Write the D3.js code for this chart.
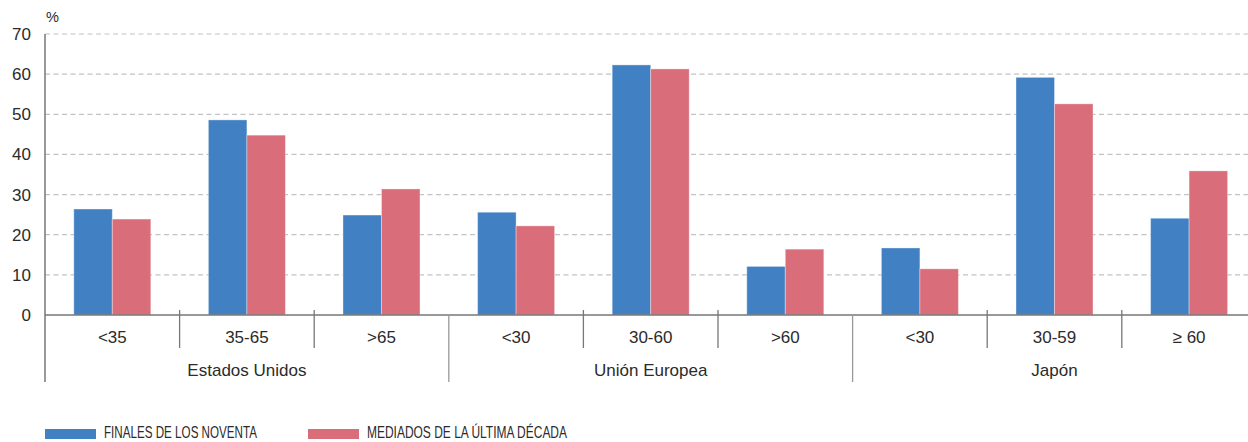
<!DOCTYPE html>
<html>
<head>
<meta charset="utf-8">
<script src="https://cdn.jsdelivr.net/npm/d3@7"></script>
<style>
  html, body { margin: 0; padding: 0; background: #fff; }
  svg { display: block; }
  text { font-family: "Liberation Sans", Arial, Helvetica, sans-serif; fill: #2b2b2b; }
</style>
</head>
<body>
<svg id="chart" width="1248" height="442"></svg>
<script>
// Age brackets, grouped by region
const groups = ["Estados Unidos", "Unión Europea", "Japón"];
const ageLabels = ["<35", "35-65", ">65", "<30", "30-60", ">60", "<30", "30-59", "≥ 60"];
const groupOf = [0, 0, 0, 1, 1, 1, 2, 2, 2];

// Share (%) per bracket
const seriesNames = ["FINALES DE LOS NOVENTA", "MEDIADOS DE LA ÚLTIMA DÉCADA"];
const finalesNoventa = [26.4, 48.6, 24.9, 25.6, 62.3, 12.1, 16.7, 59.2, 24.1];
const mediadosDecada = [23.9, 44.8, 31.4, 22.2, 61.3, 16.4, 11.5, 52.6, 35.9];
const yTicks = [0, 10, 20, 30, 40, 50, 60, 70];

const colors = ["#4180c3", "#d96d7a"];

const svg = d3.select("#chart");
const W = 1248;
const left = 45, y0 = 315, yTop = 34;
const catWidth = 134.6;
const labelSize = 17;

const keys = ageLabels.map((d, i) => i);
const x0 = d3.scaleBand().domain(keys).range([left, left + catWidth * keys.length]).padding(0);
const bw = x0.bandwidth();
const barW = 38.5;
const x1 = d3.scaleBand().domain([0, 1]).range([bw / 2 - barW, bw / 2 + barW]).padding(0);
const y = d3.scaleLinear().domain([0, 70]).range([y0, yTop]);

// Dashed grid lines
svg.append("g")
  .selectAll("line")
  .data(yTicks.filter(t => t > 0))
  .join("line")
  .attr("x1", left).attr("x2", W)
  .attr("y1", d => y(d)).attr("y2", d => y(d))
  .attr("stroke", "#c2c2c2")
  .attr("stroke-width", 1.2)
  .attr("stroke-dasharray", "5,3.5");

// Y axis tick labels
const yAxis = d3.axisLeft(y).tickValues(yTicks).tickSize(0).tickPadding(14);
const gy = svg.append("g").attr("transform", `translate(${left},0)`).call(yAxis);
gy.select(".domain").remove();
gy.selectAll("text")
  .attr("font-size", labelSize)
  .attr("font-family", "Liberation Sans, Arial, sans-serif")
  .attr("fill", "#2b2b2b");

svg.append("text")
  .attr("x", 46).attr("y", 22)
  .attr("font-size", 14.5)
  .text("%");

// Bars
const series = [finalesNoventa, mediadosDecada];
series.forEach((vals, s) => {
  svg.append("g")
    .selectAll("rect")
    .data(keys)
    .join("rect")
    .attr("x", i => x0(i) + x1(s))
    .attr("width", x1.bandwidth())
    .attr("y", i => y(vals[i]))
    .attr("height", i => y0 - y(vals[i]))
    .attr("fill", colors[s])
    .attr("stroke", "#ffffff")
    .attr("stroke-opacity", 0.35)
    .attr("stroke-width", 1);
});

const axisColor = "#777";

// Baseline
svg.append("line")
  .attr("x1", left).attr("x2", W)
  .attr("y1", y0).attr("y2", y0)
  .attr("stroke", axisColor).attr("stroke-width", 1.5);

// Y axis line
svg.append("line")
  .attr("x1", left).attr("x2", left)
  .attr("y1", yTop).attr("y2", 382)
  .attr("stroke", axisColor).attr("stroke-width", 1.5);

// Category separators: short between brackets, long between regions
keys.slice(1).forEach(i => {
  const isGroupEdge = groupOf[i] !== groupOf[i - 1];
  svg.append("line")
    .attr("x1", x0(i)).attr("x2", x0(i))
    .attr("y1", isGroupEdge ? y0 : y0 - 5)
    .attr("y2", isGroupEdge ? 382 : 348)
    .attr("stroke", isGroupEdge ? "#999" : axisColor)
    .attr("stroke-width", 1.3);
});

// Bracket labels
svg.append("g")
  .selectAll("text")
  .data(keys)
  .join("text")
  .attr("x", i => x0(i) + bw / 2)
  .attr("y", 343)
  .attr("text-anchor", "middle")
  .attr("font-size", labelSize)
  .text(i => ageLabels[i]);

// Region labels
svg.append("g")
  .selectAll("text")
  .data(groups)
  .join("text")
  .attr("x", (g, gi) => {
    const idx = keys.filter(i => groupOf[i] === gi);
    return (x0(idx[0]) + x0(idx[idx.length - 1]) + bw) / 2;
  })
  .attr("y", 376)
  .attr("text-anchor", "middle")
  .attr("font-size", labelSize)
  .text(d => d);

// Legend
const legendX = [45, 308];
const legendTextLen = [153, 200];
const lg = svg.append("g");
seriesNames.forEach((name, s) => {
  lg.append("rect")
    .attr("x", legendX[s]).attr("y", 429)
    .attr("width", 51).attr("height", 10)
    .attr("fill", colors[s]);
  lg.append("text")
    .attr("x", legendX[s] + 59).attr("y", 438)
    .attr("font-family", "Liberation Sans Narrow, Liberation Sans, Arial, sans-serif")
    .attr("font-size", 16.5)
    .attr("fill", "#333")
    .attr("textLength", legendTextLen[s])
    .attr("lengthAdjust", "spacingAndGlyphs")
    .text(name);
});
</script>
</body>
</html>
